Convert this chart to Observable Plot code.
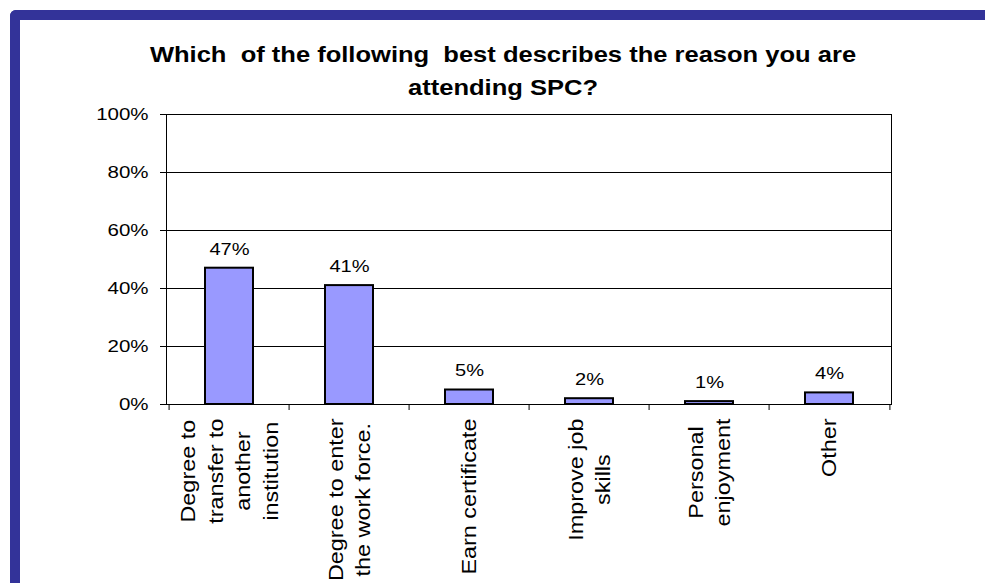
<!DOCTYPE html>
<html>
<head>
<meta charset="utf-8">
<script src="https://cdn.jsdelivr.net/npm/d3@7"></script>
<script src="https://cdn.jsdelivr.net/npm/@observablehq/plot@0.6"></script>
<style>
  html, body { margin: 0; padding: 0; background: #fff; }
  #page { position: relative; width: 985px; height: 583px; overflow: hidden;
          font-family: "Liberation Sans", Arial, sans-serif; }
  .rim-top { position: absolute; left: 10px; top: 10px; right: 0; height: 10px;
             background: #333399; border-top-left-radius: 6px; }
  .rim-left { position: absolute; left: 10px; top: 10px; width: 10px; bottom: 0;
              background: #333399; border-top-left-radius: 6px; }
  #title { position: relative; height: 100px; }
  #title .inner { position: absolute; left: 503px; top: 38px;
                  transform: translateX(-50%) scaleX(1.16);
                  text-align: center; white-space: pre; font-weight: bold;
                  font-size: 22px; line-height: 33px; color: #000; }
  #chart svg { display: block; }
</style>
</head>
<body>
<div id="page">
  <div class="rim-top"></div>
  <div class="rim-left"></div>
  <div id="title"><div class="inner"></div></div>
  <div id="chart"></div>
</div>
<script>
// Survey question and answers
const titleLines = [
  "Which  of the following  best describes the reason you are",
  "attending SPC?"
];
const categories = [
  "Degree to\ntransfer to\nanother\ninstitution",
  "Degree to enter\nthe work force.",
  "Earn certificate",
  "Improve job\nskills",
  "Personal\nenjoyment",
  "Other"
];
const shares = [47, 41, 5, 2, 1, 4];
const yTicks = [0, 20, 40, 60, 80, 100];

// Title
const inner = document.querySelector("#title .inner");
titleLines.forEach(line => {
  const div = document.createElement("div");
  div.textContent = line;
  inner.append(div);
});

// Layout
const W = 985, H = 483;
const margin = {top: 14, right: 94, bottom: 179, left: 166};
const padIn = 0.6, padOut = 0.3;
const step = (W - margin.left - margin.right) / (categories.length - padIn + 2 * padOut);
const font = '"Liberation Sans", Arial, sans-serif';

// The labels are drawn wider than the font's natural width
const stretchTick = 1.28, stretchValue = 1.18, stretchCategory = 1.17;
const catSize = 20;

const ctx = document.createElement("canvas").getContext("2d");
ctx.font = `${catSize}px ${font}`;

const rows = categories.map((c, i) => ({category: c, share: shares[i]}));

// Category labels: rotated, lines centred on each other, block hung just below the axis
const categoryMarks = categories.map(c => {
  const longest = Math.max(...c.split("\n").map(l => ctx.measureText(l).width)) * stretchCategory;
  return Plot.text([c], {
    x: d => d, y: 0, text: d => d,
    rotate: -90, textAnchor: "middle", lineAnchor: "middle",
    lineHeight: 1.385, fontSize: catSize, fill: "black",
    dx: -2, dy: 14 + longest / 2,
    ariaDescription: "category label"
  });
});

const svg = Plot.plot({
  width: W,
  height: H,
  marginTop: margin.top,
  marginRight: margin.right,
  marginBottom: margin.bottom,
  marginLeft: margin.left,
  style: {fontFamily: font, fontSize: "16px", color: "black", background: "transparent", overflow: "visible"},
  x: {type: "band", domain: categories, paddingInner: padIn, paddingOuter: padOut, align: 0.5, axis: null},
  y: {domain: [0, 100]},
  marks: [
    Plot.gridY(yTicks, {stroke: "black", strokeOpacity: 1}),
    Plot.frame({stroke: "black"}),
    Plot.barY(rows, {x: "category", y: "share", fill: "#9999ff", stroke: "black", strokeWidth: 2}),
    // tick marks between categories below the axis
    Plot.ruleX(categories, {x: d => d, dx: -step / 2, y1: 0, y2: 0, insetBottom: -6, stroke: "black"}),
    Plot.ruleX(categories.slice(-1), {x: d => d, dx: step / 2, y1: 0, y2: 0, insetBottom: -6, stroke: "black"}),
    Plot.axisY({ticks: yTicks, tickFormat: d => d + "%", tickSize: 6, tickPadding: 12, fontSize: 16, label: null, stroke: "black"}),
    Plot.text(rows, {x: "category", y: "share", text: d => `${d.share}%`, dy: -19, fontSize: 17, fill: "black", ariaDescription: "value label"}),
    ...categoryMarks
  ]
});

document.getElementById("chart").append(svg);

// Widen text along its own direction
function stretch(selector, k) {
  svg.querySelectorAll(selector).forEach(t => {
    const parts = t.querySelectorAll("tspan");
    (parts.length ? Array.from(parts) : [t]).forEach(el => {
      const w = el.getComputedTextLength();
      el.setAttribute("textLength", (w * k).toFixed(2));
      el.setAttribute("lengthAdjust", "spacingAndGlyphs");
    });
  });
}
stretch('g[aria-label="y-axis tick label"] text', stretchTick);
stretch('g[aria-description="value label"] text', stretchValue);
stretch('g[aria-description="category label"] text', stretchCategory);
</script>
</body>
</html>
